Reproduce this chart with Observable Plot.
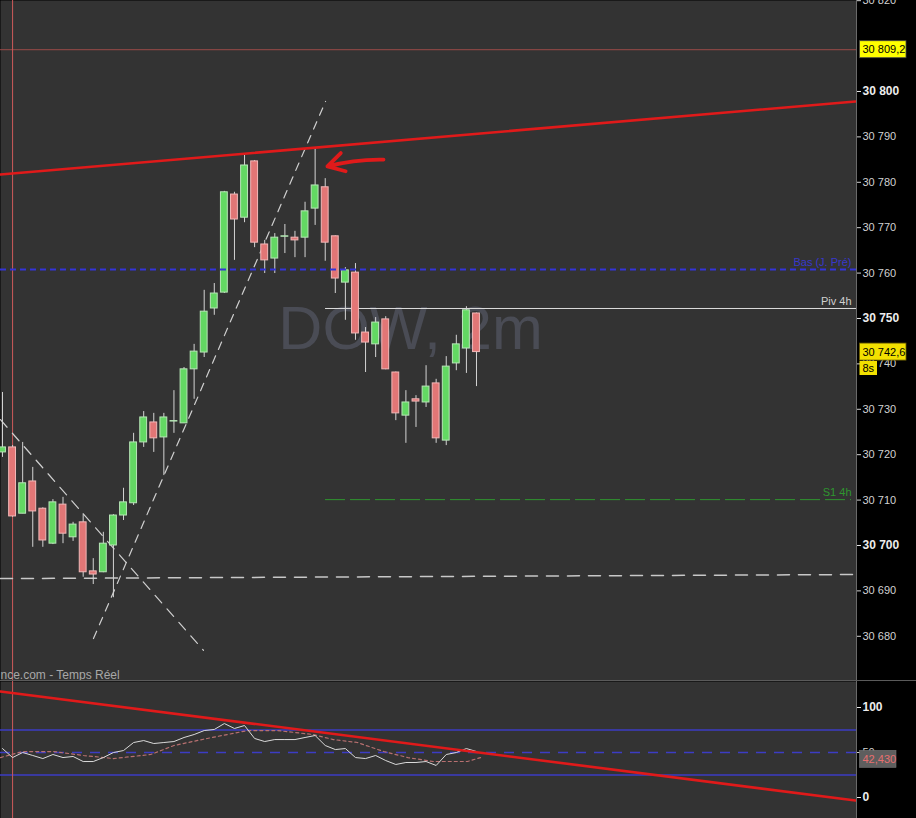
<!DOCTYPE html>
<html><head><meta charset="utf-8">
<script src="https://cdn.jsdelivr.net/npm/d3@7"></script>
<script src="https://cdn.jsdelivr.net/npm/@observablehq/plot@0.6"></script>
<style>
body{margin:0;background:#000}
#wrap{position:relative;width:916px;height:818px;overflow:hidden;background:#000}
#wrap svg{display:block}
#sep{position:absolute;left:0;top:680px;width:916px;height:1px;background:#5a5a5a}
</style>
</head><body><div id="wrap"></div><div id="sep"></div>
<script>
// ---- candle data (2-minute bars, index 0..47) ----
const openP  = [30720.5,30721.6,30707.0,30714.1,30708.1,30700.4,30709.0,30701.8,30705.1,30694.3,30694.1,30700.0,30706.6,30709.3,30722.7,30727.1,30723.8,30727.3,30726.9,30738.8,30742.5,30752.2,30755.7,30777.3,30772.2,30784.6,30766.3,30763.2,30768.0,30767.8,30767.8,30774.2,30778.9,30768.1,30757.9,30760.1,30746.9,30744.3,30749.8,30738.1,30728.6,30732.2,30731.5,30735.7,30723.1,30740.1,30743.4,30751.1];
const closeP = [30721.6,30706.4,30713.7,30707.5,30701.1,30709.5,30702.6,30704.6,30694.1,30693.6,30700.4,30706.6,30709.5,30722.7,30728.2,30723.6,30728.2,30727.4,30738.8,30742.7,30751.5,30755.5,30777.8,30771.8,30783.7,30766.7,30762.8,30767.8,30768.1,30767.2,30773.6,30779.3,30766.7,30758.8,30760.6,30746.7,30744.7,30749.1,30738.8,30729.1,30731.5,30731.7,30735.0,30723.6,30739.4,30744.3,30751.8,30742.6];
const highP  = [30733.7,30722.0,30722.7,30717.2,30708.3,30710.1,30710.6,30705.1,30707.0,30697.1,30702.9,30706.8,30712.6,30724.7,30729.5,30729.1,30729.1,30734.1,30739.2,30744.3,30756.2,30757.7,30778.0,30777.8,30785.9,30784.8,30767.2,30768.7,30770.7,30769.2,30775.6,30787.4,30780.8,30768.2,30761.2,30762.1,30748.0,30750.2,30750.4,30738.2,30734.1,30733.0,30739.6,30736.6,30741.6,30746.3,30752.6,30751.2];
const lowP   = [30719.4,30706.2,30707.0,30699.6,30699.6,30700.2,30700.4,30700.9,30693.0,30691.4,30694.0,30688.5,30705.5,30708.8,30721.6,30720.5,30715.4,30724.7,30726.9,30732.2,30741.4,30750.7,30755.5,30762.8,30771.1,30765.6,30759.9,30759.9,30764.3,30763.4,30763.4,30770.5,30762.6,30755.5,30749.6,30745.2,30738.1,30741.4,30738.7,30727.5,30722.5,30726.0,30730.4,30722.5,30722.0,30738.5,30737.9,30735.0];

// ---- indicator (RSI) ----
const rsiVal = [54.4,44.4,50,46.7,43.3,47.8,44.4,45.6,40,40,44.4,50,52.2,61.1,63.3,60,61.1,62.2,66.7,70,74.4,75.6,82.2,76.7,80,65.6,62.2,64.4,64.4,64.4,66.7,68.9,57.8,53.3,54.4,44.4,43.3,46.7,41.1,36.7,38.9,38.9,40,35.6,47.8,50,54.4,51.1];
const maIdx = [-0.2,2,5.06,8.03,11.0,14.7,17.0,20.3,24.3,27.3,30.8,32.8,35.2,37.8,40.2,42.7,46.1,47.4];
const maVal = [44.4,51.1,51.1,46.7,43.3,47.8,57.8,65.6,74.4,74.4,70,64.4,61.1,51.1,44.4,40,40,44.4];
const rsiBands = [25, 75];
const rsiMid = [50];
const rsiLast = 42.43;
const rsiTicks = [0, 100];

// ---- levels and drawn lines ----
const levelTop = 30809.2;
const basJPre = 30760.8;
const piv4h = 30752.2;
const s14h = 30710.1;
const lastPrice = 30742.6;
const levelStartIdx = 32.03;
const vLineIdx = [1];
const resistX = [-0.2, 84.58], resistY = [30781.7, 30797.8];
const riseX = [9.02, 32.03], riseY = [30679.5, 30797.8];
const fallX = [-0.2, 19.93], fallY = [30727.7, 30676.9];
const flatX = [-0.2, 84.58], flatY = [30692.7, 30693.6];
const arrowPts = {x1: 37.78, y1: 30785.0, x2: 32.22, y2: 30783.5};
const indTrendX = [-0.2, 84.58], indTrendY = [117.8, -3.3];

// ---- axis ticks ----
const ticksMinor = [30680,30690,30710,30720,30730,30740,30760,30770,30780,30790,30820];
const ticksMajor = [30700,30750,30800];

const X_DOMAIN = [-0.198, 84.68];
const Y_MAIN = [30670.04, 30820.04];
const Y_IND = [-23.3, 128.9];
const W = 916, H1 = 681, H2 = 137, MR = 60;
const xInv = d3.scaleLinear([0, W - MR], X_DOMAIN);
const yInvMain = d3.scaleLinear([H1, 0], Y_MAIN);
const pxY = 4.54; // px per point (main)

const fmt = d3.formatLocale({decimal: ",", thousands: " ", grouping: [3], currency: ["", ""]}).format(",");
const FONT = "Liberation Sans, Arial, sans-serif";

const candles = openP.map((o, i) => ({i, open: o, close: closeP[i], high: highP[i], low: lowP[i]}));
const ups = candles.filter(d => d.close >= d.open);
const downs = candles.filter(d => d.close < d.open);
const pts = (xs, ys) => xs.map((x, k) => ({x, y: ys[k]}));
const priceLabel = d => d3.format(".1f")(d).replace(".", ",").replace(/^(\d\d)(\d{3})/, "$1 $2");

const rx1 = xInv(859.5), rx2 = xInv(906), rxText = xInv(862);

const main = Plot.plot({
  width: W, height: H1,
  marginLeft: 0, marginRight: MR, marginTop: 0, marginBottom: 0,
  style: {background: "#000", color: "#d6d6d6", fontFamily: FONT},
  x: {domain: X_DOMAIN, axis: null},
  y: {domain: Y_MAIN, axis: null},
  marks: [
    Plot.frame({fill: "#333333", stroke: "none"}),
    Plot.text(["DOW, 2m"], {x: () => 40.46, y: () => 30747.5, text: d => d, fontSize: 61, fill: "#4a4c55", textAnchor: "middle", fontFamily: FONT}),
    Plot.ruleY([levelTop], {stroke: "#9b4b48", strokeWidth: 1}),
    Plot.ruleX(vLineIdx, {stroke: "#cc5a5a", strokeWidth: 1}),
    Plot.ruleY([piv4h], {x1: () => levelStartIdx, x2: () => X_DOMAIN[1], stroke: "#dcdcdc", strokeWidth: 1}),
    Plot.ruleY([s14h], {x1: () => levelStartIdx, x2: () => xInv(851), stroke: "#2f952f", strokeWidth: 1, strokeDasharray: "20,5"}),
    Plot.line(pts(flatX, flatY), {x: "x", y: "y", stroke: "#c8c8c8", strokeWidth: 1.5, strokeDasharray: "12,9"}),
    Plot.line(pts(riseX, riseY), {x: "x", y: "y", stroke: "#d0d0d0", strokeWidth: 1.2, strokeDasharray: "8,7"}),
    Plot.line(pts(fallX, fallY), {x: "x", y: "y", stroke: "#d0d0d0", strokeWidth: 1.2, strokeDasharray: "10,8"}),
    Plot.ruleX(candles, {x: "i", y1: "low", y2: "high", stroke: "#d4d4d4", strokeWidth: 1}),
    Plot.rect(ups, {x1: d => d.i - 0.34, x2: d => d.i + 0.34, y1: "open", y2: "close", fill: "#63d863", stroke: "#b8e6b8", strokeWidth: 1}),
    Plot.rect(downs, {x1: d => d.i - 0.34, x2: d => d.i + 0.34, y1: "open", y2: "close", fill: "#e27676", stroke: "#f2b8b8", strokeWidth: 1}),
    Plot.ruleY([basJPre], {stroke: "#3434d8", strokeWidth: 2, strokeDasharray: "6,4"}),
    Plot.line(pts(resistX, resistY), {x: "x", y: "y", stroke: "#e01a1a", strokeWidth: 2.6}),
    Plot.arrow([arrowPts], {x1: "x1", y1: "y1", x2: "x2", y2: "y2", stroke: "#e01a1a", strokeWidth: 3.8, headLength: 14, bend: -8}),
    Plot.text(["Bas (J. Pré)"], {x: () => xInv(851), y: () => basJPre, dy: -7, text: d => d, textAnchor: "end", fill: "#3838cc", fontSize: 11}),
    Plot.text(["Piv 4h"], {x: () => xInv(851), y: () => piv4h, dy: -7, text: d => d, textAnchor: "end", fill: "#d0d0d0", fontSize: 11}),
    Plot.text(["S1 4h"], {x: () => xInv(851), y: () => s14h, dy: -7, text: d => d, textAnchor: "end", fill: "#2f952f", fontSize: 11}),
    Plot.text(["nce.com - Temps Réel"], {x: () => xInv(0), y: () => yInvMain(675), text: d => d, textAnchor: "start", fill: "#a8a8a8", fontSize: 12}),
    Plot.ruleX([X_DOMAIN[1]], {stroke: "#6a6a6a", strokeWidth: 1}),
    Plot.axisY(ticksMinor, {anchor: "right", tickSize: 4, tickPadding: 2, tickFormat: fmt, fontSize: 11, color: "#d2d2d2", label: null}),
    Plot.axisY(ticksMajor, {anchor: "right", tickSize: 4, tickPadding: 2, tickFormat: fmt, fontSize: 12, fontWeight: "bold", color: "#ececec", label: null}),
    // price label boxes
    Plot.rect([levelTop], {x1: () => rx1, x2: () => rx2, y1: d => d - 8.5 / pxY, y2: d => d + 8.5 / pxY, fill: "#ffff00", stroke: "#444", strokeWidth: 0.8}),
    Plot.text([levelTop], {x: () => rxText, y: d => d, text: priceLabel, textAnchor: "start", fill: "#000", fontSize: 11}),
    Plot.rect([lastPrice], {x1: () => rx1, x2: () => rx2, y1: d => d - 8.5 / pxY, y2: d => d + 8.5 / pxY, fill: "#f2e000", stroke: "#6a5a00", strokeWidth: 0.8}),
    Plot.text([lastPrice], {x: () => rxText, y: d => d, text: priceLabel, textAnchor: "start", fill: "#000", fontSize: 11}),
    Plot.rect(["8s"], {x1: () => rx1, x2: () => xInv(877), y1: () => yInvMain(375), y2: () => yInvMain(361), fill: "#f2e000"}),
    Plot.text(["8s"], {x: () => rxText, y: () => yInvMain(368), text: d => d, textAnchor: "start", fill: "#000", fontSize: 11})
  ]
});

const rsiData = rsiVal.map((v, i) => ({x: i, y: v}));
const ind = Plot.plot({
  width: W, height: H2,
  marginLeft: 0, marginRight: MR, marginTop: 0, marginBottom: 0,
  style: {background: "#000", color: "#d6d6d6", fontFamily: FONT},
  x: {domain: X_DOMAIN, axis: null},
  y: {domain: Y_IND, axis: null},
  marks: [
    Plot.frame({fill: "#333333", stroke: "none"}),
    Plot.ruleY(rsiBands, {stroke: "#3c3cc4", strokeWidth: 1.3}),
    Plot.ruleY(rsiMid, {stroke: "#3c3cc4", strokeWidth: 1.3, strokeDasharray: "10,8"}),
    Plot.ruleX(vLineIdx, {stroke: "#cc5a5a", strokeWidth: 1}),
    Plot.line(pts(maIdx, maVal), {x: "x", y: "y", stroke: "#b87070", strokeWidth: 1.2, strokeDasharray: "3,3"}),
    Plot.line(rsiData, {x: "x", y: "y", stroke: "#dadada", strokeWidth: 1}),
    Plot.line(pts(indTrendX, indTrendY), {x: "x", y: "y", stroke: "#e01a1a", strokeWidth: 2.6}),
    Plot.ruleX([X_DOMAIN[1]], {stroke: "#6a6a6a", strokeWidth: 1}),
    Plot.axisY([50], {anchor: "right", tickSize: 4, tickPadding: 2, fontSize: 11, color: "#d2d2d2", label: null}),
    Plot.axisY(rsiTicks, {anchor: "right", tickSize: 4, tickPadding: 2, fontSize: 12, fontWeight: "bold", color: "#ececec", label: null}),
    Plot.rect([rsiLast], {x1: () => rx1, x2: () => xInv(896), y1: d => d - 8.5 / 0.9, y2: d => d + 8.5 / 0.9, fill: "#5e5e5e", stroke: "#777", strokeWidth: 0.6}),
    Plot.text([rsiLast], {x: () => rxText, y: d => d, text: d => d3.format(".3f")(d).replace(".", ","), textAnchor: "start", fill: "#e87070", fontSize: 11})
  ]
});

const wrap = document.getElementById("wrap");
wrap.appendChild(main);
wrap.appendChild(ind);
</script>
</body></html>
